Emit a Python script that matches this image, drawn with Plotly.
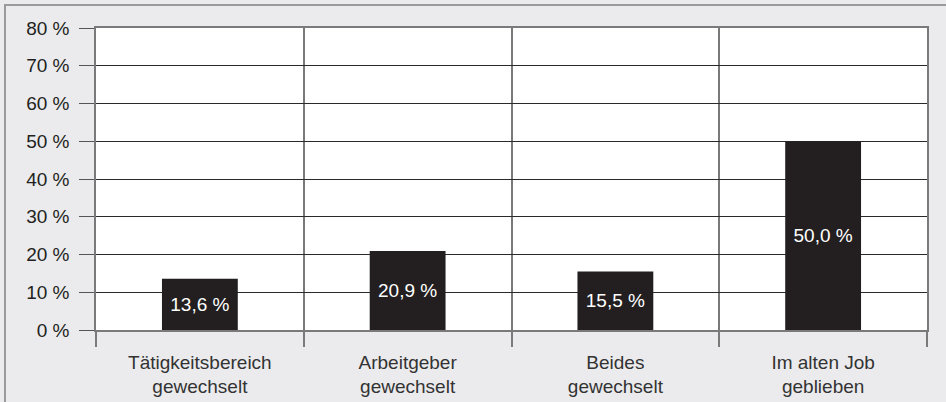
import plotly.graph_objects as go

categories = ["Tätigkeitsbereich<br>gewechselt", "Arbeitgeber<br>gewechselt",
              "Beides<br>gewechselt", "Im alten Job<br>geblieben"]
values = [13.6, 20.9, 15.5, 50.0]
y_ticks = [0, 10, 20, 30, 40, 50, 60, 70, 80]
y_tick_labels = [f"{v} %" for v in y_ticks]
labels = [f"{v:.1f}".replace(".", ",") + " %" for v in values]

FONT = "Liberation Sans, Arial, sans-serif"

fig = go.Figure(go.Bar(
    x=categories, y=values, text=labels,
    textposition="inside", insidetextanchor="middle",
    textfont=dict(color="white", size=19, family=FONT),
    marker=dict(color="#231f20", line=dict(width=0)),
    width=0.365, hoverinfo="skip",
))

fig.update_layout(
    width=946, height=402,
    margin=dict(l=96, r=19, t=28, b=72),
    paper_bgcolor="#ebebed", plot_bgcolor="white",
    font=dict(family=FONT, size=19, color="#231f20"),
    showlegend=False,
    xaxis=dict(
        type="category", tickson="boundaries",
        showgrid=True, gridcolor="#7a7a7a", gridwidth=1.5,
        ticks="outside", ticklen=15, tickcolor="#7a7a7a", tickwidth=1.5,
        showline=True, linecolor="#7a7a7a", linewidth=1.5, mirror=True,
        tickfont=dict(size=19, color="#333333"),
        ticklabelstandoff=14, automargin=False,
    ),
    yaxis=dict(
        range=[0, 80], tickvals=y_ticks, ticktext=y_tick_labels,
        showgrid=True, gridcolor="#2a2a2a", gridwidth=1,
        zeroline=False,
        ticks="outside", ticklen=15, tickcolor="#555555", tickwidth=1,
        showline=True, linecolor="#7a7a7a", linewidth=1.5, mirror=True,
        tickfont=dict(size=19, color="#231f20"),
        ticklabelstandoff=6, automargin=False,
    ),
    shapes=[dict(type="rect", xref="paper", yref="paper",
                 x0=-0.1095, x1=1.2, y0=-0.4, y1=1.0762,
                 line=dict(color="#9a9a9a", width=2), fillcolor="rgba(0,0,0,0)",
                 layer="below")],
)

fig.write_html("out.html", config={"displayModeBar": False},
               post_script="document.body.style.margin='0';")
